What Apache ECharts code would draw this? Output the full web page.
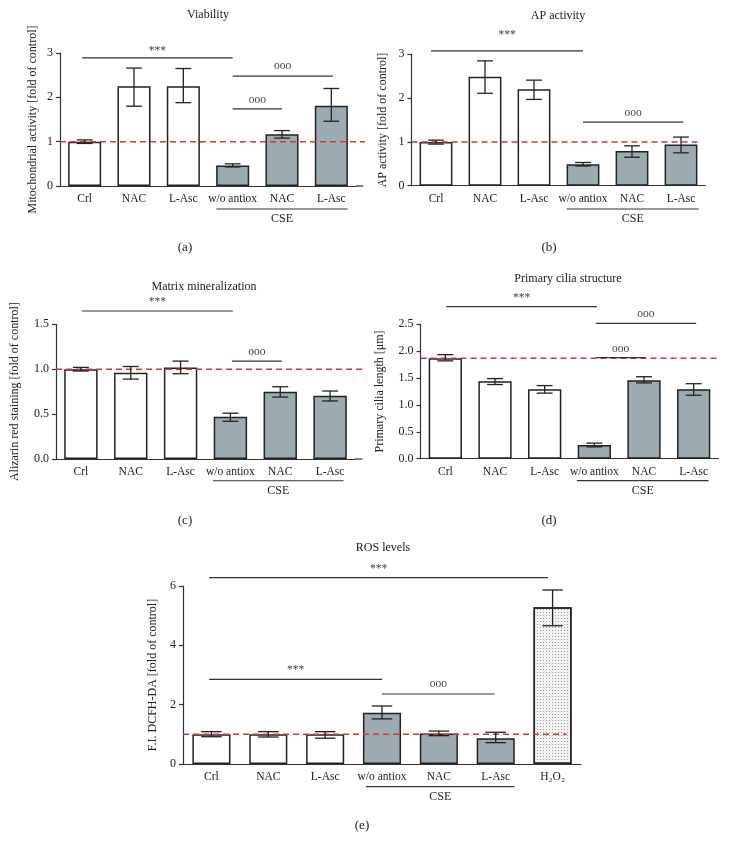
<!DOCTYPE html>
<html><head><meta charset="utf-8">
<script src="https://cdn.jsdelivr.net/npm/echarts@6/dist/echarts.min.js"></script>
<style>html,body{margin:0;padding:0;background:#fff}#c{width:730px;height:859px}</style>
</head><body><div id="c"></div>
<script>
// ---------- categories ----------
const cats6 = ['Crl', 'NAC', 'L-Asc', 'w/o antiox', 'NAC', 'L-Asc'];
const cats7 = ['Crl', 'NAC', 'L-Asc', 'w/o antiox', 'NAC', 'L-Asc', 'H₂O₂'];

// ---------- (a) Viability ----------
const viabMean = [1.0, 2.25, 2.25, 0.46, 1.17, 1.81];
const viabLow  = [0.96, 1.80, 1.88, 0.43, 1.08, 1.46];
const viabHigh = [1.04, 2.66, 2.65, 0.50, 1.25, 2.20];

// ---------- (b) AP activity ----------
const apMean = [1.0, 2.49, 2.20, 0.49, 0.79, 0.94];
const apLow  = [0.95, 2.11, 1.97, 0.45, 0.65, 0.75];
const apHigh = [1.04, 2.85, 2.41, 0.53, 0.91, 1.11];

// ---------- (c) Matrix mineralization ----------
const minMean = [1.0, 0.96, 1.02, 0.47, 0.75, 0.705];
const minLow  = [0.98, 0.89, 0.95, 0.42, 0.69, 0.646];
const minHigh = [1.02, 1.03, 1.09, 0.51, 0.805, 0.757];

// ---------- (d) Primary cilia structure ----------
const ciliaMean = [1.87, 1.44, 1.29, 0.255, 1.46, 1.29];
const ciliaLow  = [1.82, 1.38, 1.22, 0.22, 1.41, 1.18];
const ciliaHigh = [1.935, 1.49, 1.36, 0.29, 1.525, 1.395];

// ---------- (e) ROS levels ----------
const rosMean = [1.0, 1.0, 1.0, 1.73, 1.03, 0.865, 5.28];
const rosLow  = [0.92, 0.91, 0.87, 1.52, 0.955, 0.72, 4.66];
const rosHigh = [1.09, 1.09, 1.09, 1.955, 1.11, 1.07, 5.865];

// ---------- y-axis ticks ----------
const ticksA = [0, 1, 2, 3];
const ticksB = [0, 1, 2, 3];
const ticksC = [0.0, 0.5, 1.0, 1.5];
const ticksD = [0.0, 0.5, 1.0, 1.5, 2.0, 2.5];
const ticksE = [0, 2, 4, 6];

// ---------- reference (control) levels ----------
const refLevels = [1, 1, 1, 1.87, 1];

// ---------- significance annotations: [fromCat, toCat, level, label, labelLevel] ----------
const sigA = [[-0.05, 3, 2.89, '***', 3.05], [3, 5.03, 2.48, 'ooo', 2.71], [3, 4, 1.74, 'ooo', 1.94]];
const sigB = [[-0.1, 3, 3.08, '***', 3.45], [3, 5.05, 1.45, 'ooo', 1.66]];
const sigC = [[0.02, 3.05, 1.648, '***', 1.75], [3.03, 4.03, 1.09, 'ooo', 1.195]];
const sigD = [[0.02, 3.05, 2.827, '***', 2.995], [3.03, 5.05, 2.519, 'ooo', 2.686], [3.03, 4.03, 1.879, 'ooo', 2.04]];
const sigE = [[-0.04, 5.92, 6.28, '***', 6.57], [-0.04, 3, 2.855, '***', 3.17], [3, 4.98, 2.36, 'ooo', 2.69]];

const FONT = 'Liberation Serif';
const TXT = '#222';

const panels = [
  { grid: {left: 60, top: 53, width: 296, height: 133}, cats: cats6, mean: viabMean, low: viabLow, high: viabHigh,
    ticks: ticksA, dec: 0, yName: 'Mitochondrial activity [fold of control]', nameGap: 21,
    ref: refLevels[0], refX: [-0.5, 5.68], axisEnd: 5.65, sig: sigA, cse: [2.67, 5.33, -0.519, -0.744],
    title: 'Viability', titlePos: [208, 15], letter: '(a)', letterPos: [185, 248], cap: 0.32 },
  { grid: {left: 411.5, top: 54.3, width: 294, height: 131.4}, cats: cats6, mean: apMean, low: apLow, high: apHigh,
    ticks: ticksB, dec: 0, yName: 'AP activity [fold of control]', nameGap: 23,
    ref: refLevels[1], refX: [-0.5, 5.35], axisEnd: null, sig: sigB, cse: [2.67, 5.36, -0.532, -0.76],
    title: 'AP activity', titlePos: [558, 15.7], letter: '(b)', letterPos: [549, 248], cap: 0.32 },
  { grid: {left: 56, top: 324.3, width: 299, height: 134.7}, cats: cats6, mean: minMean, low: minLow, high: minHigh,
    ticks: ticksC, dec: 1, yName: 'Alizarin red staining [fold of control]', nameGap: 35,
    ref: refLevels[2], refX: [-0.5, 5.7], axisEnd: 5.65, sig: sigC, cse: [2.65, 5.27, -0.242, -0.356],
    title: 'Matrix mineralization', titlePos: [204, 286.7], letter: '(c)', letterPos: [185, 521], cap: 0.32 },
  { grid: {left: 420.5, top: 324.3, width: 298, height: 134.4}, cats: cats6, mean: ciliaMean, low: ciliaLow, high: ciliaHigh,
    ticks: ticksD, dec: 1, yName: 'Primary cilia length [μm]', nameGap: 35,
    ref: refLevels[3], refX: [-0.5, 5.5], axisEnd: null, sig: sigD, cse: [2.65, 5.3, -0.409, -0.60],
    title: 'Primary cilia structure', titlePos: [568, 279], letter: '(d)', letterPos: [549, 521], cap: 0.32 },
  { grid: {left: 183, top: 586, width: 398, height: 178}, cats: cats7, mean: rosMean, low: rosLow, high: rosHigh,
    ticks: ticksE, dec: 0, yName: 'F.I. DCFH-DA [fold of control]', nameGap: 21,
    ref: refLevels[4], refX: [-0.5, 6.25], axisEnd: null, sig: sigE, cse: [2.72, 5.33, -0.765, -1.10],
    title: 'ROS levels', titlePos: [383, 548.3], letter: '(e)', letterPos: [362, 826], cap: 0.36 }
];

const GRAY = '#9cabb1';
const option = { animation: false, backgroundColor: '#fff', grid: [], xAxis: [], yAxis: [], series: [], graphic: [] };

// linear position along a category axis (allows fractional category positions)
function pt(api, cx, y) {
  const a = api.coord([0, y]), b = api.coord([1, y]);
  return [a[0] + (b[0] - a[0]) * cx, a[1]];
}

panels.forEach((p, k) => {
  option.grid.push(Object.assign({containLabel: false}, p.grid));
  option.xAxis.push({
    type: 'category', gridIndex: k, data: p.cats,
    axisLine: {lineStyle: {color: '#333', width: 1.2}},
    axisTick: {alignWithLabel: true, length: 4, lineStyle: {color: '#333', width: 1.2}},
    axisLabel: {interval: 0, color: TXT, fontFamily: FONT, fontSize: 11.5, margin: 7}
  });
  const tmin = p.ticks[0], tmax = p.ticks[p.ticks.length - 1];
  option.yAxis.push({
    type: 'value', gridIndex: k, min: tmin, max: tmax, interval: p.ticks[1] - p.ticks[0],
    name: p.yName, nameLocation: 'middle', nameGap: p.nameGap, nameRotate: 90,
    nameTextStyle: {color: TXT, fontFamily: FONT, fontSize: 12},
    axisLine: {show: true, lineStyle: {color: '#333', width: 1.2}},
    axisTick: {show: true, length: 4, lineStyle: {color: '#333', width: 1.2}},
    axisLabel: {color: TXT, fontFamily: FONT, fontSize: 12, margin: 7,
      formatter: v => v.toFixed(p.dec)},
    splitLine: {show: false}
  });
  // bars
  option.series.push({
    type: 'bar', xAxisIndex: k, yAxisIndex: k, barWidth: '67%', z: 2,
    data: p.mean.map((v, i) => ({
      value: v,
      itemStyle: i < 3 ? {color: '#fff', borderColor: '#222', borderWidth: 1.5}
        : (i < 6 ? {color: GRAY, borderColor: '#222', borderWidth: 1.5}
          : {color: '#f2f2f2', borderColor: '#222', borderWidth: 1.5,
             decal: {symbol: 'rect', symbolSize: 1, color: 'rgba(90,90,90,0.55)', dashArrayX: [1, 2], dashArrayY: [1, 2], rotation: 0}})
    }))
  });
  // reference dashed line (+ x-axis line extension where the original axis runs past the last bar)
  option.series.push({
    type: 'custom', xAxisIndex: k, yAxisIndex: k, z: 3, silent: true, clip: false,
    data: [[0, p.ref]],
    renderItem: (params, api) => {
      const ch = [];
      const a = pt(api, p.refX[0], p.ref), b = pt(api, p.refX[1], p.ref);
      ch.push({type: 'line', shape: {x1: a[0], y1: a[1], x2: b[0], y2: b[1]},
        style: {stroke: '#e0303a', lineWidth: 1.5, lineDash: [6, 4]}});
      if (p.axisEnd != null) {
        const c = pt(api, 5.5, p.ticks[0]), d = pt(api, p.axisEnd, p.ticks[0]);
        ch.push({type: 'line', shape: {x1: c[0], y1: c[1], x2: d[0], y2: d[1]}, style: {stroke: '#333', lineWidth: 1.2}});
      }
      return {type: 'group', children: ch};
    }
  });
  // error bars
  option.series.push({
    type: 'custom', xAxisIndex: k, yAxisIndex: k, z: 4, silent: true,
    encode: {x: 0, y: [1, 2]},
    data: p.mean.map((v, i) => [i, p.low[i], p.high[i]]),
    renderItem: (params, api) => {
      const x = api.value(0);
      const lo = api.coord([x, api.value(1)]), hi = api.coord([x, api.value(2)]);
      const half = api.size([1, 0])[0] * p.cap / 2;
      const st = {stroke: '#222', lineWidth: 1.3};
      return {type: 'group', children: [
        {type: 'line', shape: {x1: lo[0], y1: lo[1], x2: hi[0], y2: hi[1]}, style: st},
        {type: 'line', shape: {x1: lo[0] - half, y1: lo[1], x2: lo[0] + half, y2: lo[1]}, style: st},
        {type: 'line', shape: {x1: hi[0] - half, y1: hi[1], x2: hi[0] + half, y2: hi[1]}, style: st}
      ]};
    }
  });
  // significance + CSE group annotations
  option.series.push({
    type: 'custom', xAxisIndex: k, yAxisIndex: k, z: 5, silent: true, clip: false,
    data: [[0, 0]],
    renderItem: (params, api) => {
      const ch = [];
      const st = {stroke: '#333', lineWidth: 1.2};
      p.sig.forEach(s => {
        const a = pt(api, s[0], s[2]), b = pt(api, s[1], s[2]);
        ch.push({type: 'line', shape: {x1: a[0], y1: a[1], x2: b[0], y2: b[1]}, style: st});
        const t = pt(api, (s[0] + s[1]) / 2, s[4]);
        ch.push({type: 'text', x: t[0], y: t[1], style: {text: s[3], fill: '#444', fontFamily: FONT, fontSize: 11.5, align: 'center', verticalAlign: 'middle'}});
      });
      const c = p.cse;
      const a = pt(api, c[0], c[2]), b = pt(api, c[1], c[2]);
      ch.push({type: 'line', shape: {x1: a[0], y1: a[1], x2: b[0], y2: b[1]}, style: st});
      const t = pt(api, (c[0] + c[1]) / 2, c[3]);
      ch.push({type: 'text', x: t[0], y: t[1], style: {text: 'CSE', fill: TXT, fontFamily: FONT, fontSize: 12, align: 'center', verticalAlign: 'middle'}});
      return {type: 'group', children: ch};
    }
  });
  option.graphic.push({type: 'text', x: p.titlePos[0], y: p.titlePos[1],
    style: {text: p.title, fill: TXT, font: '12px "Liberation Serif"', align: 'center', verticalAlign: 'middle'}});
  option.graphic.push({type: 'text', x: p.letterPos[0], y: p.letterPos[1],
    style: {text: p.letter, fill: TXT, font: '13px "Liberation Serif"', align: 'center', verticalAlign: 'middle'}});
});

const chart = echarts.init(document.getElementById('c'), null, {renderer: 'canvas'});
chart.setOption(option);
</script>
</body></html>
